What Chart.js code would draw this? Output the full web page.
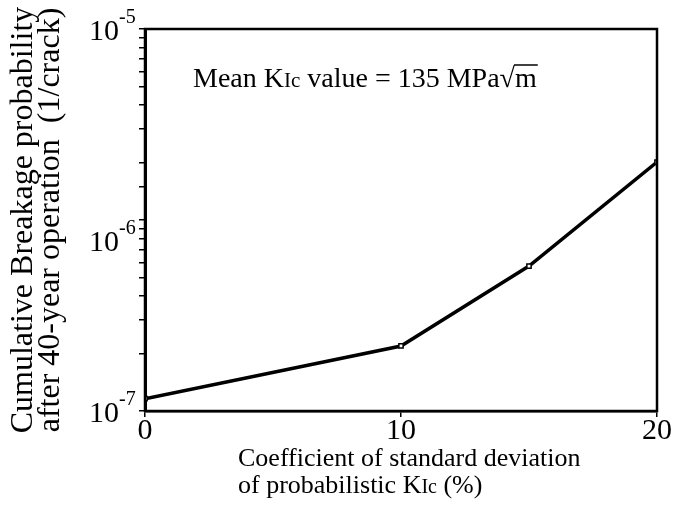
<!DOCTYPE html>
<html>
<head>
<meta charset="utf-8">
<script src="https://cdn.jsdelivr.net/npm/chart.js@4.4.1/dist/chart.umd.min.js"></script>
<style>
  body { margin: 0; background: #fff; }
  #wrap { width: 674px; height: 508px; position: relative; }
</style>
</head>
<body>
<div id="wrap"><canvas id="breakage-chart"></canvas></div>
<script>
// Valores
const sdCoefficient = [0, 10, 15, 20];              // %
const breakageProb = [1.16e-7, 2.19e-7, 5.74e-7, 2.01e-6];  // 1/crack
const xTickValues = [0, 10, 20];
const yMajorExponents = [-7, -6, -5];

const SERIF = '"Liberation Serif", "Times New Roman", serif';

// Escreve texto com trechos de tamanhos diferentes (KIc, expoentes...)
function drawRich(ctx, parts, x, y) {
    let cx = x;
    parts.forEach(([text, size]) => {
        ctx.font = size + 'px ' + SERIF;
        ctx.fillText(text, cx, y);
        cx += ctx.measureText(text).width;
    });
    return cx;
}

const framePlugin = {
    id: 'frame',
    afterDraw(chart) {
        const ctx = chart.ctx;
        const area = chart.chartArea;
        const yScale = chart.scales.y;
        ctx.save();
        ctx.strokeStyle = '#000';
        ctx.lineWidth = 2.5;
        ctx.strokeRect(area.left, area.top, area.right - area.left, area.bottom - area.top);

        ctx.fillStyle = '#000';
        ctx.textBaseline = 'alphabetic';

        // rótulos 10^n do eixo y (o 10^-6 fica um pouco abaixo no original)
        yMajorExponents.forEach(e => {
            const py = yScale.getPixelForValue(Math.pow(10, e)) + (e === -6 ? 20 : 0);
            ctx.textAlign = 'right';
            ctx.font = '30px ' + SERIF;
            ctx.fillText('10', 119, py + 11);
            ctx.textAlign = 'left';
            ctx.font = '20px ' + SERIF;
            ctx.fillText(String(e), 119, py - 6);
        });

        ctx.textAlign = 'left';
        // anotação
        const after = drawRich(ctx, [['Mean K', 28], ['Ic', 21], [' value = 135 MPa', 28], ['\u221A', 28]],
            area.left + 48, 87);
        ctx.font = '28px ' + SERIF;
        const mw = ctx.measureText('m').width;
        ctx.fillText('m', after, 87);
        ctx.lineWidth = 1.5;
        ctx.beginPath();
        ctx.moveTo(after - 1, 65);
        ctx.lineTo(after + mw + 1, 65);
        ctx.stroke();

        // título do eixo x (duas linhas alinhadas à esquerda)
        drawRich(ctx, [['Coefficient of standard deviation', 26]], 238, 466);
        drawRich(ctx, [['of probabilistic K', 26], ['Ic', 20], [' (%)', 26]], 238, 493);
        ctx.restore();
    }
};

const points = sdCoefficient.map((x, i) => ({ x: x, y: breakageProb[i] }));

new Chart(document.getElementById('breakage-chart'), {
    type: 'line',
    data: {
        datasets: [{
            data: points,
            borderColor: '#000',
            borderWidth: 3.5,
            tension: 0,
            pointStyle: 'rect',
            pointRadius: 3,
            pointBorderWidth: 1.5,
            pointBorderColor: '#000',
            pointBackgroundColor: '#fff'
        }]
    },
    options: {
        responsive: true,
        maintainAspectRatio: false,
        animation: false,
        layout: { padding: { top: 29, right: 17, left: 0, bottom: 0 } },
        plugins: { legend: { display: false }, tooltip: { enabled: false } },
        scales: {
            x: {
                type: 'linear',
                min: 0,
                max: 20,
                afterFit: s => { s.height = 97; },
                afterBuildTicks: s => { s.ticks = xTickValues.map(v => ({ value: v })); },
                ticks: {
                    color: '#000',
                    font: { family: SERIF, size: 30 },
                    padding: -4
                },
                grid: {
                    drawOnChartArea: false,
                    color: '#000',
                    lineWidth: 1.5,
                    tickLength: 6
                },
                border: { color: '#000', width: 2.5 }
            },
            y: {
                type: 'logarithmic',
                min: 1e-7,
                max: 1e-5,
                afterFit: s => { s.width = 145; },
                ticks: {
                    callback: () => '',
                    autoSkip: false,
                    padding: 0
                },
                grid: {
                    drawOnChartArea: false,
                    color: '#000',
                    lineWidth: 1.5,
                    tickLength: 6
                },
                border: { color: '#000', width: 3 },
                title: {
                    display: true,
                    text: ['Cumulative Breakage probability', 'after 40-year operation  (1/crack)'],
                    color: '#000',
                    font: { family: SERIF, size: 32, lineHeight: 0.85 },
                    padding: { top: 10, bottom: 0 }
                }
            }
        }
    },
    plugins: [framePlugin]
});
</script>
</body>
</html>
